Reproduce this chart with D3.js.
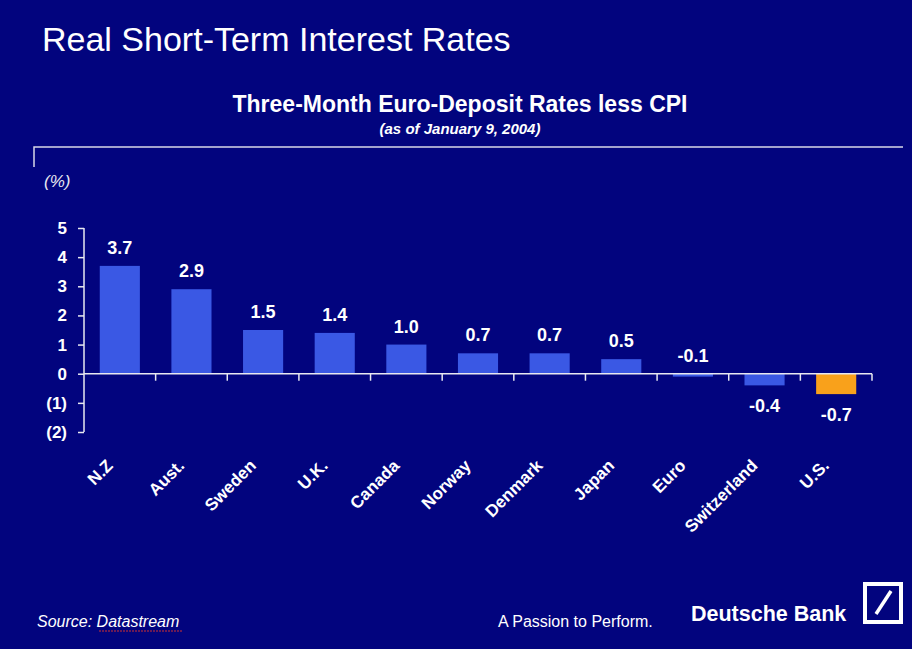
<!DOCTYPE html>
<html>
<head>
<meta charset="utf-8">
<script src="https://cdn.jsdelivr.net/npm/d3@7"></script>
<style>
  html, body { margin: 0; padding: 0; background: #02047e; }
  svg { display: block; font-family: "Liberation Sans", Arial, sans-serif; }
</style>
</head>
<body>
<svg width="912" height="649"></svg>
<script>
const countries = ['N.Z', 'Aust.', 'Sweden', 'U.K.', 'Canada', 'Norway', 'Denmark', 'Japan', 'Euro', 'Switzerland', 'U.S.'];
const rates = [3.7, 2.9, 1.5, 1.4, 1.0, 0.7, 0.7, 0.5, -0.1, -0.4, -0.7];
const yTicks = [5, 4, 3, 2, 1, 0, -1, -2];
const yTickLabels = ['5', '4', '3', '2', '1', '0', '(1)', '(2)'];
const highlight = 'U.S.';

const data = countries.map((c, i) => ({country: c, rate: rates[i]}));

const svg = d3.select('svg');
const width = +svg.attr('width');
const height = +svg.attr('height');

const margin = {top: 228, right: 40, bottom: 217, left: 84};
const innerWidth = width - margin.left - margin.right;
const innerHeight = height - margin.top - margin.bottom;

const xScale = d3.scaleBand()
	.domain(countries)
	.range([0, innerWidth])
	.paddingInner(0.44)
	.paddingOuter(0.22);

const yScale = d3.scaleLinear()
	.domain([5, -2])
	.range([0, innerHeight]);

const g = svg.append('g')
	.attr('transform', `translate(${margin.left}, ${margin.top})`);

// bars
g.selectAll('rect.bar').data(data)
	.enter().append('rect')
		.attr('class', 'bar')
		.attr('x', d => xScale(d.country))
		.attr('y', d => yScale(Math.max(0, d.rate)))
		.attr('width', xScale.bandwidth())
		.attr('height', d => Math.abs(yScale(d.rate) - yScale(0)))
		.attr('fill', d => d.country === highlight ? '#f9a11b' : '#3a58e4');

// y axis
const yAxis = d3.axisLeft(yScale)
	.tickValues(yTicks)
	.tickFormat((d, i) => yTickLabels[i])
	.tickSize(6)
	.tickPadding(11);

const yAxisG = g.append('g').call(yAxis);
yAxisG.select('.domain').remove();
yAxisG.append('line')
	.attr('y1', yScale(5))
	.attr('y2', yScale(-2))
	.attr('stroke', '#e8e8f0')
	.attr('stroke-width', 1.5);
yAxisG.selectAll('.tick line').attr('stroke', '#e8e8f0').attr('stroke-width', 1.5);
yAxisG.selectAll('.tick text')
	.attr('fill', 'white')
	.attr('font-size', 17)
	.attr('font-weight', 'bold');

// x axis at zero
const xAxisG = g.append('g')
	.attr('transform', `translate(0, ${yScale(0)})`);
xAxisG.append('line')
	.attr('x1', 0)
	.attr('x2', innerWidth)
	.attr('stroke', '#e8e8f0')
	.attr('stroke-width', 1.5);
const step = xScale.step();
xAxisG.selectAll('line.tick').data(d3.range(1, countries.length + 1))
	.enter().append('line')
		.attr('class', 'tick')
		.attr('x1', d => d * step)
		.attr('x2', d => d * step)
		.attr('y1', 0)
		.attr('y2', 7)
		.attr('stroke', '#e8e8f0')
		.attr('stroke-width', 1.5);

// category labels
g.selectAll('text.cat').data(data)
	.enter().append('text')
		.attr('class', 'cat')
		.attr('transform', d => `translate(${xScale(d.country) + xScale.bandwidth() / 2 - 6}, ${yScale(0) + 93}) rotate(-45)`)
		.attr('text-anchor', 'end')
		.attr('fill', 'white')
		.attr('font-size', 17)
		.attr('font-weight', 'bold')
		.text(d => d.country);

// value labels
g.selectAll('text.val').data(data)
	.enter().append('text')
		.attr('class', 'val')
		.attr('x', d => xScale(d.country) + xScale.bandwidth() / 2)
		.attr('y', d => d.rate > -0.15 ? yScale(Math.max(0, d.rate)) - 12 : yScale(d.rate) + 27)
		.attr('text-anchor', 'middle')
		.attr('fill', 'white')
		.attr('font-size', 18)
		.attr('font-weight', 'bold')
		.text(d => d.rate.toFixed(1));

// titles
svg.append('text')
	.attr('x', 42)
	.attr('y', 51)
	.attr('fill', 'white')
	.attr('font-size', 34)
	.text('Real Short-Term Interest Rates');

svg.append('text')
	.attr('x', 460)
	.attr('y', 112)
	.attr('text-anchor', 'middle')
	.attr('fill', 'white')
	.attr('font-size', 23)
	.attr('font-weight', 'bold')
	.text('Three-Month Euro-Deposit Rates less CPI');

svg.append('text')
	.attr('x', 460)
	.attr('y', 134)
	.attr('text-anchor', 'middle')
	.attr('fill', 'white')
	.attr('font-size', 15)
	.attr('font-weight', 'bold')
	.attr('font-style', 'italic')
	.text('(as of January 9, 2004)');

// frame line
svg.append('path')
	.attr('d', 'M34,167 V147 H903')
	.attr('fill', 'none')
	.attr('stroke', '#d8d8e8')
	.attr('stroke-width', 1.5);

svg.append('text')
	.attr('x', 44)
	.attr('y', 187)
	.attr('fill', '#e8e8f0')
	.attr('font-size', 17)
	.attr('font-style', 'italic')
	.text('(%)');

// footer
const source = svg.append('text')
	.attr('x', 37)
	.attr('y', 627)
	.attr('fill', 'white')
	.attr('font-size', 16)
	.attr('font-style', 'italic');
source.append('tspan').text('Source:  ');
source.append('tspan').text('Datastream');

svg.append('path')
	.attr('d', 'M99,631 h83')
	.attr('stroke', '#d03030')
	.attr('stroke-width', 1)
	.attr('stroke-dasharray', '2,1');

svg.append('text')
	.attr('x', 498)
	.attr('y', 627)
	.attr('fill', 'white')
	.attr('font-size', 16)
	.text('A Passion to Perform.');

svg.append('text')
	.attr('x', 691)
	.attr('y', 621)
	.attr('fill', 'white')
	.attr('font-size', 21.5)
	.attr('font-weight', 'bold')
	.text('Deutsche Bank');

svg.append('rect')
	.attr('x', 865)
	.attr('y', 584)
	.attr('width', 36)
	.attr('height', 38)
	.attr('fill', 'none')
	.attr('stroke', 'white')
	.attr('stroke-width', 4);

svg.append('line')
	.attr('x1', 876)
	.attr('y1', 614)
	.attr('x2', 891)
	.attr('y2', 591)
	.attr('stroke', 'white')
	.attr('stroke-width', 3.5);
</script>
</body>
</html>
